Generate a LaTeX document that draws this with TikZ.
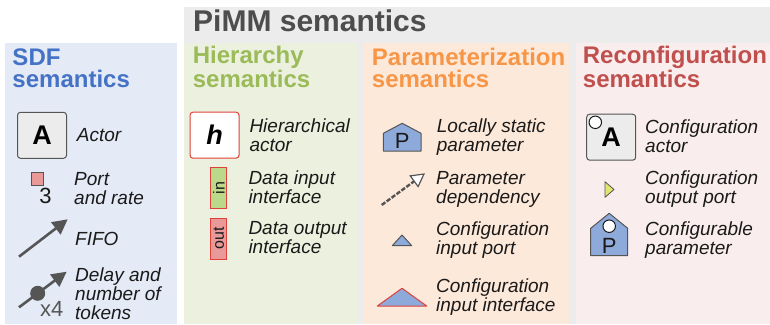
\documentclass[tikz,border=0pt]{standalone}
\usepackage{fontspec}
\setmainfont{Liberation Sans}
\usetikzlibrary{arrows.meta}

\definecolor{grayBg}{HTML}{ECECEC}
\definecolor{sdfBg}{HTML}{E4EAF6}
\definecolor{hierBg}{HTML}{EBF1DE}
\definecolor{paramBg}{HTML}{FDE9DA}
\definecolor{reconfBg}{HTML}{FAEDED}
\definecolor{sdfCol}{HTML}{4472C4}
\definecolor{hierCol}{HTML}{9BBB59}
\definecolor{paramCol}{HTML}{F79646}
\definecolor{reconfCol}{HTML}{C0504D}
\definecolor{titleGray}{HTML}{4D4D4D}
\definecolor{edgeGray}{HTML}{555555}
\definecolor{ink}{HTML}{1A1A1A}
\definecolor{portPink}{HTML}{EA9999}
\definecolor{ifGreen}{HTML}{BCD98A}
\definecolor{ifRed}{HTML}{E0403A}
\definecolor{paramBlue}{HTML}{8EAADB}
\definecolor{cfgYellow}{HTML}{E3E66E}

\begin{document}
% multi-line nodes are placed by the baseline of their last line
\begin{tikzpicture}[x=1pt,y=-1pt,
  paneltitle/.style={anchor=base west, inner sep=0pt, align=left,
    font=\fontsize{24}{22}\selectfont\bfseries},
  lbl/.style={anchor=base west, inner sep=0pt, align=left, text=ink,
    font=\fontsize{19}{19}\selectfont\itshape},
  actorbox/.style={draw=edgeGray, line width=1pt, fill=grayBg, rounded corners=3pt,
    minimum width=49pt, minimum height=46pt, inner sep=0pt,
    font=\fontsize{27}{27}\selectfont\bfseries},
  ifbox/.style={draw=ifRed, line width=1pt, minimum width=15.7pt, minimum height=41pt,
    inner sep=0pt},
  iftext/.style={rotate=90, inner sep=0pt, text=ink, font=\fontsize{16}{16}\selectfont},
  fifo/.style={draw=edgeGray, line width=2.6pt, -{Triangle[length=15pt,width=15pt]}},
  blueshape/.style={fill=paramBlue, draw=edgeGray, line width=1pt, line join=round},
  cfgdot/.style={circle, draw=ink, line width=1pt, fill=white, minimum size=12.5pt, inner sep=0pt}
]
\useasboundingbox (0,0) rectangle (770,324);

% panels
\fill[grayBg] (184,7) rectangle (770,324);
\fill[sdfBg] (5,43) rectangle (177,324);
\fill[hierBg] (184,43) rectangle (357,324);
\fill[paramBg] (364,43) rectangle (569.3,324);
\fill[reconfBg] (576,43) rectangle (770,324);

\node[anchor=base west, inner sep=0pt, text=titleGray,
  font=\fontsize{30}{30}\selectfont\bfseries] (pimm) at (193,31.7) {PiMM semantics};

\node[paneltitle, text=sdfCol] (tSdf) at (12.3,87) {SDF\\semantics};
\node[paneltitle, text=hierCol] (tHier) at (192.7,87) {Hierarchy\\semantics};
\node[paneltitle, text=paramCol] (tParam) at (371.7,87) {Parameterization\\semantics};
\node[paneltitle, text=reconfCol] (tReconf) at (582.7,87) {Reconfiguration\\semantics};

% ---- SDF semantics ----
\node[actorbox] (actor) at (42,135.3) {A};
\node[lbl] (lActor) at (76.7,141.7) {Actor};

\node[draw=edgeGray, line width=0.8pt, fill=portPink, minimum size=12.3pt, inner sep=0pt]
  (port) at (37.2,178.9) {};
\node[anchor=base, inner sep=0pt, text=ink, font=\fontsize{22}{22}\selectfont]
  (rate) at (45.5,203.3) {3};
\node[lbl] (lPort) at (74,204) {Port\\and rate};

\coordinate (fifoS) at (19,256.7);
\coordinate (fifoE) at (67.7,219.3);
\draw[fifo] (fifoS) -- (fifoE);
\node[lbl] (lFifo) at (75,245) {FIFO};

\coordinate (delS) at (19,307.3);
\coordinate (delE) at (66.7,271.7);
\draw[fifo] (delS) -- (delE);
\node[circle, fill=edgeGray, minimum size=15pt, inner sep=0pt] (delay) at (37.7,293.3) {};
\node[anchor=base west, inner sep=0pt, text=edgeGray, font=\fontsize{22}{22}\selectfont]
  (tokens) at (40,316.7) {x4};
\node[lbl] (lDelay) at (75,319.5) {Delay and\\number of\\tokens};

% ---- Hierarchy semantics ----
\node[actorbox, draw=ifRed, fill=white, font=\fontsize{27}{27}\selectfont\bfseries\itshape]
  (hact) at (214.5,135.2) {h};
\node[lbl] (lHact) at (249.3,151.5) {Hierarchical\\actor};

\node[ifbox, fill=ifGreen] (inIf) at (218.8,187.8) {};
\node[iftext] at (inIf.center) {in};
\node[lbl] (lIn) at (248.3,203.5) {Data input\\interface};

\node[ifbox, fill=portPink] (outIf) at (218.8,238.6) {};
\node[iftext] at (outIf.center) {out};
\node[lbl] (lOut) at (248.3,253.5) {Data output\\interface};

% ---- Parameterization semantics ----
\draw[blueshape] (383.3,151) -- (421,151) -- (421,133.3) -- (402.2,123.3) -- (383.3,133.3) -- cycle;
\node[anchor=base, inner sep=0pt, text=ink, font=\fontsize{22}{22}\selectfont]
  (pLocal) at (402.2,148.5) {P};
\node[lbl] (lLocal) at (436.7,151.2) {Locally static\\parameter};

\coordinate (depS) at (381.7,205);
\coordinate (depE) at (425,173.3);
\draw[draw=edgeGray, line width=2.4pt, dash pattern=on 4.5pt off 1.6pt,
  -{Triangle[open, fill=white, length=14pt, width=15pt, line width=1.2pt]}]
  (depS) -- (depE);
\node[lbl] (lDep) at (436,203.5) {Parameter\\dependency};

\draw[blueshape] (392.3,245.7) -- (411.7,245.7) -- (402,235) -- cycle;
\node[lbl] (lCin) at (436,254.3) {Configuration\\input port};

\draw[blueshape, draw=ifRed] (377.3,306) -- (426.7,306) -- (402,288.3) -- cycle;
\node[lbl] (lCif) at (436,311) {Configuration\\input interface};

% ---- Reconfiguration semantics ----
\node[actorbox] (cact) at (611.2,137.2) {A};
\node[cfgdot] (cactDot) at (595.3,122.3) {};
\node[lbl] (lCact) at (645,152.3) {Configuration\\actor};

\draw[fill=cfgYellow, draw=edgeGray, line width=0.8pt, line join=round]
  (605,181.7) -- (614,189.5) -- (605,197.3) -- cycle;
\node[lbl] (lCout) at (645,203.5) {Configuration\\output port};

\draw[blueshape] (590.7,255.7) -- (627.7,255.7) -- (627.7,228.3) -- (609.2,213.3) -- (590.7,228.3) -- cycle;
\node[cfgdot] (cparDot) at (609.2,226.2) {};
\node[anchor=base, inner sep=0pt, text=ink, font=\fontsize{22}{22}\selectfont]
  (pCfg) at (609.2,253.3) {P};
\node[lbl] (lCpar) at (645,254.3) {Configurable\\parameter};
\end{tikzpicture}
\end{document}
